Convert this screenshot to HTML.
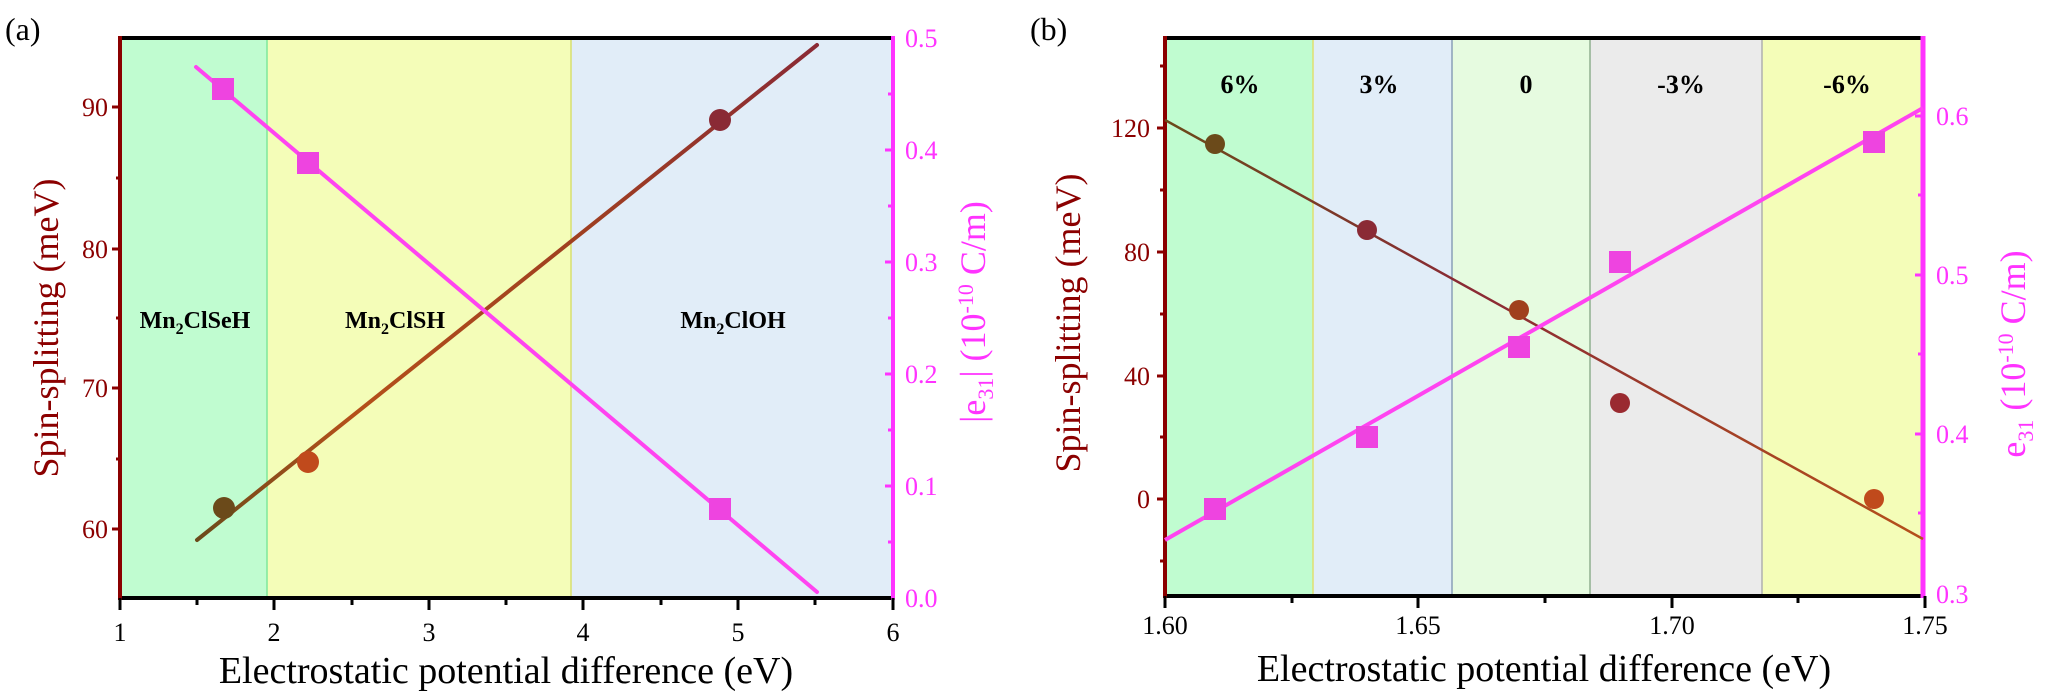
<!DOCTYPE html><html><head><style>body{margin:0;background:#fff}svg{display:block}svg text{font-family:"Liberation Serif","DejaVu Serif",serif}</style></head><body>
<svg width="2050" height="694" xmlns="http://www.w3.org/2000/svg" font-family="'Liberation Serif', serif">
<defs>
<linearGradient id="ga" x1="197" y1="0" x2="817" y2="0" gradientUnits="userSpaceOnUse"><stop offset="0" stop-color="#6b4a1a"/><stop offset="0.25" stop-color="#b5501a"/><stop offset="0.6" stop-color="#a04020"/><stop offset="1" stop-color="#8a2a35"/></linearGradient>
<linearGradient id="gb" x1="1165" y1="0" x2="1923" y2="0" gradientUnits="userSpaceOnUse"><stop offset="0" stop-color="#6b4a1a"/><stop offset="0.4" stop-color="#8a2a35"/><stop offset="1" stop-color="#b5501a"/></linearGradient>
</defs>
<!-- Panel a -->
<text x="5" y="40" font-size="32">(a)</text>
<rect x="120" y="38" width="147" height="560" fill="#c0fcd0"/>
<rect x="267" y="38" width="304" height="560" fill="#f4fdb8"/>
<rect x="571" y="38" width="322" height="560" fill="#e1edf8"/>
<line x1="267" y1="40" x2="267" y2="596" stroke="#7fe89a" stroke-width="1.5"/>
<line x1="571" y1="40" x2="571" y2="596" stroke="#d8e070" stroke-width="1.5"/>
<line x1="118" y1="38" x2="893" y2="38" stroke="#000" stroke-width="4"/>
<line x1="118" y1="598" x2="893" y2="598" stroke="#000" stroke-width="4"/>
<line x1="120" y1="36" x2="120" y2="600" stroke="#8b0000" stroke-width="4"/>
<line x1="893" y1="36" x2="893" y2="600" stroke="#ff33ff" stroke-width="4"/>
<g stroke="#000" stroke-width="3">
<line x1="120" y1="598" x2="120" y2="610"/><line x1="274" y1="598" x2="274" y2="610"/><line x1="429" y1="598" x2="429" y2="610"/><line x1="583" y1="598" x2="583" y2="610"/><line x1="738" y1="598" x2="738" y2="610"/><line x1="893" y1="598" x2="893" y2="610"/>
<line x1="197" y1="598" x2="197" y2="605"/><line x1="352" y1="598" x2="352" y2="605"/><line x1="506" y1="598" x2="506" y2="605"/><line x1="661" y1="598" x2="661" y2="605"/><line x1="815" y1="598" x2="815" y2="605"/>
</g>
<g stroke="#8b0000" stroke-width="3">
<line x1="112" y1="107" x2="120" y2="107"/><line x1="112" y1="249" x2="120" y2="249"/><line x1="112" y1="388" x2="120" y2="388"/><line x1="112" y1="529" x2="120" y2="529"/>
<line x1="116" y1="178" x2="120" y2="178"/><line x1="116" y1="318" x2="120" y2="318"/><line x1="116" y1="459" x2="120" y2="459"/>
</g>
<g stroke="#ff33ff" stroke-width="3">
<line x1="885" y1="150" x2="893" y2="150"/><line x1="885" y1="262" x2="893" y2="262"/><line x1="885" y1="374" x2="893" y2="374"/><line x1="885" y1="486" x2="893" y2="486"/>
<line x1="888" y1="94" x2="893" y2="94"/><line x1="888" y1="206" x2="893" y2="206"/><line x1="888" y1="318" x2="893" y2="318"/><line x1="888" y1="430" x2="893" y2="430"/><line x1="888" y1="542" x2="893" y2="542"/>
</g>
<g font-size="26" fill="#8b0000" text-anchor="end">
<text x="108" y="116">90</text><text x="108" y="258">80</text><text x="108" y="397">70</text><text x="108" y="538">60</text>
</g>
<g font-size="26" fill="#ff33ff">
<text x="905" y="47">0.5</text><text x="905" y="159">0.4</text><text x="905" y="271">0.3</text><text x="905" y="383">0.2</text><text x="905" y="495">0.1</text><text x="905" y="607">0.0</text>
</g>
<g font-size="26" fill="#000" text-anchor="middle">
<text x="120" y="641">1</text><text x="274" y="641">2</text><text x="429" y="641">3</text><text x="583" y="641">4</text><text x="738" y="641">5</text><text x="893" y="641">6</text>
</g>
<text x="506" y="683" font-size="38" text-anchor="middle">Electrostatic potential difference (eV)</text>
<text transform="translate(58,328) rotate(-90)" font-size="36" fill="#8b0000" text-anchor="middle">Spin-splitting (meV)</text>
<text transform="translate(985,312) rotate(-90)" font-size="36" fill="#ff33ff" text-anchor="middle">|e<tspan font-size="22" dy="8">31</tspan><tspan dy="-8">| (10</tspan><tspan font-size="22" dy="-12">-10</tspan><tspan dy="12"> C/m)</tspan></text>
<g font-size="24" font-weight="bold" text-anchor="middle">
<text x="195" y="328">Mn<tspan font-size="16" dy="6">2</tspan><tspan dy="-6">ClSeH</tspan></text>
<text x="395" y="328">Mn<tspan font-size="16" dy="6">2</tspan><tspan dy="-6">ClSH</tspan></text>
<text x="733" y="328">Mn<tspan font-size="16" dy="6">2</tspan><tspan dy="-6">ClOH</tspan></text>
</g>
<line x1="197" y1="540" x2="817" y2="45" stroke="url(#ga)" stroke-width="4" stroke-linecap="round"/>
<line x1="196" y1="67" x2="817" y2="592" stroke="#ff44f0" stroke-width="4" stroke-linecap="round"/>
<circle cx="224" cy="508" r="11" fill="#6b4a1a"/><circle cx="308" cy="462" r="11" fill="#c04a1c"/><circle cx="720" cy="120" r="11" fill="#8a2a35"/>
<rect x="212" y="78" width="22" height="22" fill="#ee44e0"/><rect x="297" y="152" width="22" height="22" fill="#ee44e0"/><rect x="709" y="498" width="22" height="22" fill="#ee44e0"/>

<!-- Panel b -->
<text x="1030" y="40" font-size="32">(b)</text>
<rect x="1165" y="38" width="148" height="558" fill="#c0fcd0"/>
<rect x="1313" y="38" width="139" height="558" fill="#e1edf8"/>
<rect x="1452" y="38" width="138" height="558" fill="#e6fbe0"/>
<rect x="1590" y="38" width="172" height="558" fill="#ebebeb"/>
<rect x="1762" y="38" width="161" height="558" fill="#f4fdb8"/>
<g stroke-width="1.5"><line x1="1313" y1="40" x2="1313" y2="594" stroke="#e0e070"/><line x1="1452" y1="40" x2="1452" y2="594" stroke="#8aa0b8"/><line x1="1590" y1="40" x2="1590" y2="594" stroke="#90b090"/><line x1="1762" y1="40" x2="1762" y2="594" stroke="#b0b0b0"/></g>
<line x1="1163" y1="38" x2="1923" y2="38" stroke="#000" stroke-width="4"/>
<line x1="1163" y1="596" x2="1923" y2="596" stroke="#000" stroke-width="4"/>
<line x1="1165" y1="36" x2="1165" y2="598" stroke="#8b0000" stroke-width="4"/>
<line x1="1923" y1="36" x2="1923" y2="598" stroke="#ff33ff" stroke-width="5"/>
<g stroke="#000" stroke-width="3">
<line x1="1165" y1="596" x2="1165" y2="608"/><line x1="1418" y1="596" x2="1418" y2="608"/><line x1="1672" y1="596" x2="1672" y2="608"/><line x1="1925" y1="596" x2="1925" y2="608"/>
<line x1="1292" y1="596" x2="1292" y2="603"/><line x1="1545" y1="596" x2="1545" y2="603"/><line x1="1798" y1="596" x2="1798" y2="603"/>
</g>
<g stroke="#8b0000" stroke-width="3">
<line x1="1157" y1="128" x2="1165" y2="128"/><line x1="1157" y1="252" x2="1165" y2="252"/><line x1="1157" y1="376" x2="1165" y2="376"/><line x1="1157" y1="499" x2="1165" y2="499"/>
<line x1="1160" y1="66" x2="1165" y2="66"/><line x1="1160" y1="190" x2="1165" y2="190"/><line x1="1160" y1="314" x2="1165" y2="314"/><line x1="1160" y1="437" x2="1165" y2="437"/><line x1="1160" y1="561" x2="1165" y2="561"/>
</g>
<g stroke="#ff33ff" stroke-width="3">
<line x1="1915" y1="116" x2="1923" y2="116"/><line x1="1915" y1="275" x2="1923" y2="275"/><line x1="1915" y1="434" x2="1923" y2="434"/>
<line x1="1918" y1="195" x2="1923" y2="195"/><line x1="1918" y1="354" x2="1923" y2="354"/><line x1="1918" y1="513" x2="1923" y2="513"/>
</g>
<g font-size="26" fill="#8b0000" text-anchor="end">
<text x="1150" y="137">120</text><text x="1150" y="261">80</text><text x="1150" y="385">40</text><text x="1150" y="508">0</text>
</g>
<g font-size="26" fill="#ff33ff">
<text x="1936" y="125">0.6</text><text x="1936" y="284">0.5</text><text x="1936" y="443">0.4</text><text x="1936" y="603">0.3</text>
</g>
<g font-size="26" fill="#000" text-anchor="middle">
<text x="1165" y="634">1.60</text><text x="1418" y="634">1.65</text><text x="1672" y="634">1.70</text><text x="1925" y="634">1.75</text>
</g>
<text x="1544" y="681" font-size="38" text-anchor="middle">Electrostatic potential difference (eV)</text>
<text transform="translate(1080,323) rotate(-90)" font-size="36" fill="#8b0000" text-anchor="middle">Spin-splitting (meV)</text>
<text transform="translate(2025,354) rotate(-90)" font-size="36" fill="#ff33ff" text-anchor="middle">e<tspan font-size="22" dy="8">31</tspan><tspan dy="-8"> (10</tspan><tspan font-size="22" dy="-12">-10</tspan><tspan dy="12"> C/m)</tspan></text>
<g font-size="26" font-weight="bold" text-anchor="middle">
<text x="1240" y="93">6%</text><text x="1379" y="93">3%</text><text x="1526" y="93">0</text><text x="1681" y="93">-3%</text><text x="1847" y="93">-6%</text>
</g>
<line x1="1165" y1="120" x2="1923" y2="539" stroke="url(#gb)" stroke-width="2.5"/>
<line x1="1165" y1="540" x2="1923" y2="108" stroke="#ff44f0" stroke-width="4"/>
<circle cx="1215" cy="144" r="10" fill="#6b4a1a"/><circle cx="1367" cy="230" r="10" fill="#8a2a35"/><circle cx="1519" cy="310" r="10" fill="#a0401e"/><circle cx="1620" cy="403" r="10" fill="#9a2a30"/><circle cx="1874" cy="499" r="10" fill="#c04a1c"/>
<rect x="1204" y="498" width="22" height="22" fill="#ee44e0"/><rect x="1356" y="426" width="22" height="22" fill="#ee44e0"/><rect x="1508" y="336" width="22" height="22" fill="#ee44e0"/><rect x="1609" y="251" width="22" height="22" fill="#ee44e0"/><rect x="1863" y="131" width="22" height="22" fill="#ee44e0"/>
</svg>
</body></html>
